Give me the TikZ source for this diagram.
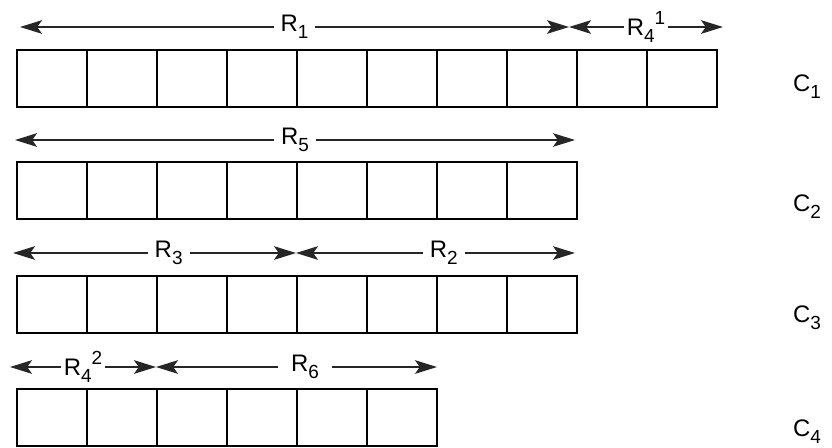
\documentclass[tikz,border=0pt]{standalone}
\usepackage{fontspec}
\setmainfont{Liberation Sans}
\usetikzlibrary{arrows.meta,positioning}
\newcommand{\subidx}[1]{\raisebox{-5pt}{\fontsize{13.5}{13.5}\selectfont #1}}
\newcommand{\supidx}[1]{\raisebox{7.5pt}{\fontsize{13.5}{13.5}\selectfont #1}}

\begin{document}
\begin{tikzpicture}[x=0.025cm, y=-0.025cm,
  tip/.tip={Stealth[length=5.5mm,width=3.4mm,inset=1.2mm]},
  cell/.style={draw,line width=1.4pt,minimum width=1.75cm,minimum height=1.42cm,inner sep=0pt,outer sep=0pt},
  span/.style={tip-tip,line width=1.1pt,black!85},
  lab/.style={fill=white,inner xsep=5pt,inner ysep=1pt,text=black,font=\fontsize{17}{19}\selectfont},
  chan/.style={font=\fontsize{17}{19}\selectfont}]
  \useasboundingbox (0,0) rectangle (832,447);
  % rows of cells: row/cells/top edge
  \foreach \r/\n/\t in {1/10/50,2/8/162,3/8/276,4/6/389}{
    \node[cell] (c\r-1) at (52,\t+28.5) {};
    \foreach \i [evaluate=\i as \j using int(\i-1)] in {2,...,\n}
      \node[cell,right=0pt of c\r-\j] (c\r-\i) {};
  }
  % row 1
  \coordinate (r1a) at (20,27); \coordinate (r1b) at (569,27); \coordinate (r1c) at (723,27);
  \draw[span] (r1a) -- node[lab]{R\subidx{1}} (r1b);
  \draw[span] (r1b) -- node[lab,inner xsep=2pt]{R\subidx{4}\supidx{1}} (r1c);
  % row 2
  \coordinate (r2a) at (15,140); \coordinate (r2b) at (575,140);
  \draw[span] (r2a) -- node[lab]{R\subidx{5}} (r2b);
  % row 3
  \coordinate (r3a) at (13,253); \coordinate (r3b) at (296,253); \coordinate (r3c) at (575,253);
  \draw[span] (r3a) -- node[lab,pos=0.55]{R\subidx{3}} (r3b);
  \draw[span] (r3b) -- node[lab,pos=0.53]{R\subidx{2}} (r3c);
  % row 4
  \coordinate (r4a) at (10,367); \coordinate (r4b) at (156,367); \coordinate (r4c) at (437,367);
  \draw[span] (r4a) -- node[lab,inner xsep=2pt]{R\subidx{4}\supidx{2}} (r4b);
  \draw[span] (r4b) -- node[lab,pos=0.53,inner xsep=9pt]{R\subidx{6}} (r4c);
  % channel labels
  \node[chan] (ch1) at (807,87) {C\subidx{1}};
  \node[chan] (ch2) at (807,207) {C\subidx{2}};
  \node[chan] (ch3) at (807,318) {C\subidx{3}};
  \node[chan] (ch4) at (807,432) {C\subidx{4}};
\end{tikzpicture}
\end{document}
